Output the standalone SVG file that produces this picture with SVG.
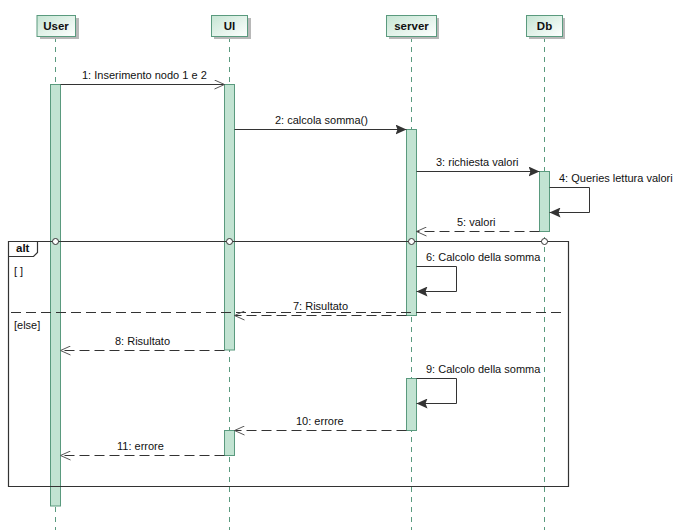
<svg xmlns="http://www.w3.org/2000/svg" width="699" height="530" viewBox="0 0 699 530">
<style>
text{font-family:"Liberation Sans",Arial,sans-serif;font-size:11px;fill:#111}
.hd{font-weight:bold;font-size:11.5px;text-anchor:middle}
.life{stroke:#5a9a7e;stroke-width:1;stroke-dasharray:5,5;fill:none}
.box{fill:url(#g);stroke:#5a9a7e;stroke-width:1}
.sh{fill:#b8b8b8}
.act{fill:#c2e3d2;stroke:#5a9a7e;stroke-width:1}
.msg{stroke:#333;stroke-width:1;fill:none}
.dash{stroke:#333;stroke-width:1;fill:none;stroke-dasharray:10,5}
.frame{stroke:#333;stroke-width:1.2;fill:none}
.dot{fill:#fff;stroke:#333;stroke-width:1}
</style>
<defs>
<linearGradient id="g" x1="0" y1="0" x2="1" y2="1">
<stop offset="0" stop-color="#c5e5d3"/>
<stop offset="1" stop-color="#ffffff"/>
</linearGradient>
<marker id="fa" markerWidth="12" markerHeight="10" refX="11" refY="5" orient="auto" markerUnits="userSpaceOnUse">
<path d="M0,0 L11,5 L0,10 L2,5 Z" fill="#333"/>
</marker>
<marker id="oa" markerWidth="12" markerHeight="10" refX="11" refY="5" orient="auto" markerUnits="userSpaceOnUse">
<path d="M1,0.5 L11,5 L1,9.5" fill="none" stroke="#555" stroke-width="1"/>
</marker>
</defs>

<g id="lifelines">
<line class="life" x1="55.5" y1="37" x2="55.5" y2="530"/>
<line class="life" x1="229.5" y1="37" x2="229.5" y2="530"/>
<line class="life" x1="411.5" y1="37" x2="411.5" y2="530"/>
<line class="life" x1="544.5" y1="37" x2="544.5" y2="530"/>
</g>

<g id="User">
<rect class="sh" x="40" y="18" width="39" height="21"/>
<rect class="box" x="37" y="15.5" width="38.5" height="21"/>
<text class="hd" x="56" y="30">User</text>
</g>
<g id="UI">
<rect class="sh" x="214" y="18" width="37" height="21"/>
<rect class="box" x="211.5" y="15.5" width="36" height="21"/>
<text class="hd" x="229.5" y="30">UI</text>
</g>
<g id="server">
<rect class="sh" x="389" y="18" width="50" height="21"/>
<rect class="box" x="386.5" y="15.5" width="50" height="21"/>
<text class="hd" x="411.5" y="30">server</text>
</g>
<g id="Db">
<rect class="sh" x="529" y="18" width="36" height="21"/>
<rect class="box" x="526.5" y="15.5" width="36" height="21"/>
<text class="hd" x="544.5" y="30">Db</text>
</g>

<g id="activations">
<rect class="act" x="50.5" y="84.5" width="10" height="421.5"/>
<rect class="act" x="224.5" y="84.5" width="10" height="265.5"/>
<rect class="act" x="406.5" y="129.5" width="10" height="186"/>
<rect class="act" x="539.5" y="171.5" width="10" height="60"/>
<rect class="act" x="406.5" y="378.5" width="10" height="52"/>
<rect class="act" x="224.5" y="430.5" width="10" height="25"/>
</g>

<g id="alt">
<path class="frame" d="M8.5,241.5 H568.5 V486.5 H8.5 Z"/>
<path class="frame" d="M8.5,256.5 H33.5 L37.5,252.5 V241.5"/>
<text x="16" y="252" style="font-weight:bold;font-size:11.5px">alt</text>
<text x="14" y="275">[ ]</text>
<line class="dash" x1="11" y1="312.5" x2="562" y2="312.5"/>
<text x="14" y="329">[else]</text>
<circle class="dot" cx="55.5" cy="241.5" r="3"/>
<circle class="dot" cx="229.5" cy="241.5" r="3"/>
<circle class="dot" cx="411.5" cy="241.5" r="3"/>
<circle class="dot" cx="544.5" cy="241.5" r="3"/>
</g>

<g id="connectors">
<line class="msg" x1="60.5" y1="84.5" x2="224.5" y2="84.5" marker-end="url(#oa)"/>
<text x="82" y="79">1: Inserimento nodo 1 e 2</text>
<line class="msg" x1="234.5" y1="129.5" x2="406.5" y2="129.5" marker-end="url(#fa)"/>
<text x="275" y="124">2: calcola somma()</text>
<line class="msg" x1="416.5" y1="171.5" x2="539.5" y2="171.5" marker-end="url(#fa)"/>
<text x="436" y="166">3: richiesta valori</text>
<path class="msg" d="M549.5,187.5 H589.5 V212.5 H549.5" marker-end="url(#fa)"/>
<text x="559" y="182">4: Queries lettura valori</text>
<line class="dash" x1="539.5" y1="231.5" x2="416.5" y2="231.5" marker-end="url(#oa)"/>
<text x="457" y="226">5: valori</text>
<path class="msg" d="M416.5,266.5 H456.5 V291.5 H416.5" marker-end="url(#fa)"/>
<text x="426" y="261">6: Calcolo della somma</text>
<line class="dash" x1="406.5" y1="315.5" x2="234.5" y2="315.5" marker-end="url(#oa)"/>
<text x="293" y="310">7: Risultato</text>
<line class="dash" x1="224.5" y1="350.5" x2="60.5" y2="350.5" marker-end="url(#oa)"/>
<text x="115" y="345">8: Risultato</text>
<path class="msg" d="M416.5,378.5 H456.5 V403.5 H416.5" marker-end="url(#fa)"/>
<text x="426" y="373">9: Calcolo della somma</text>
<line class="dash" x1="406.5" y1="430.5" x2="234.5" y2="430.5" marker-end="url(#oa)"/>
<text x="296" y="425">10: errore</text>
<line class="dash" x1="224.5" y1="455.5" x2="60.5" y2="455.5" marker-end="url(#oa)"/>
<text x="117" y="450">11: errore</text>
</g>
</svg>
